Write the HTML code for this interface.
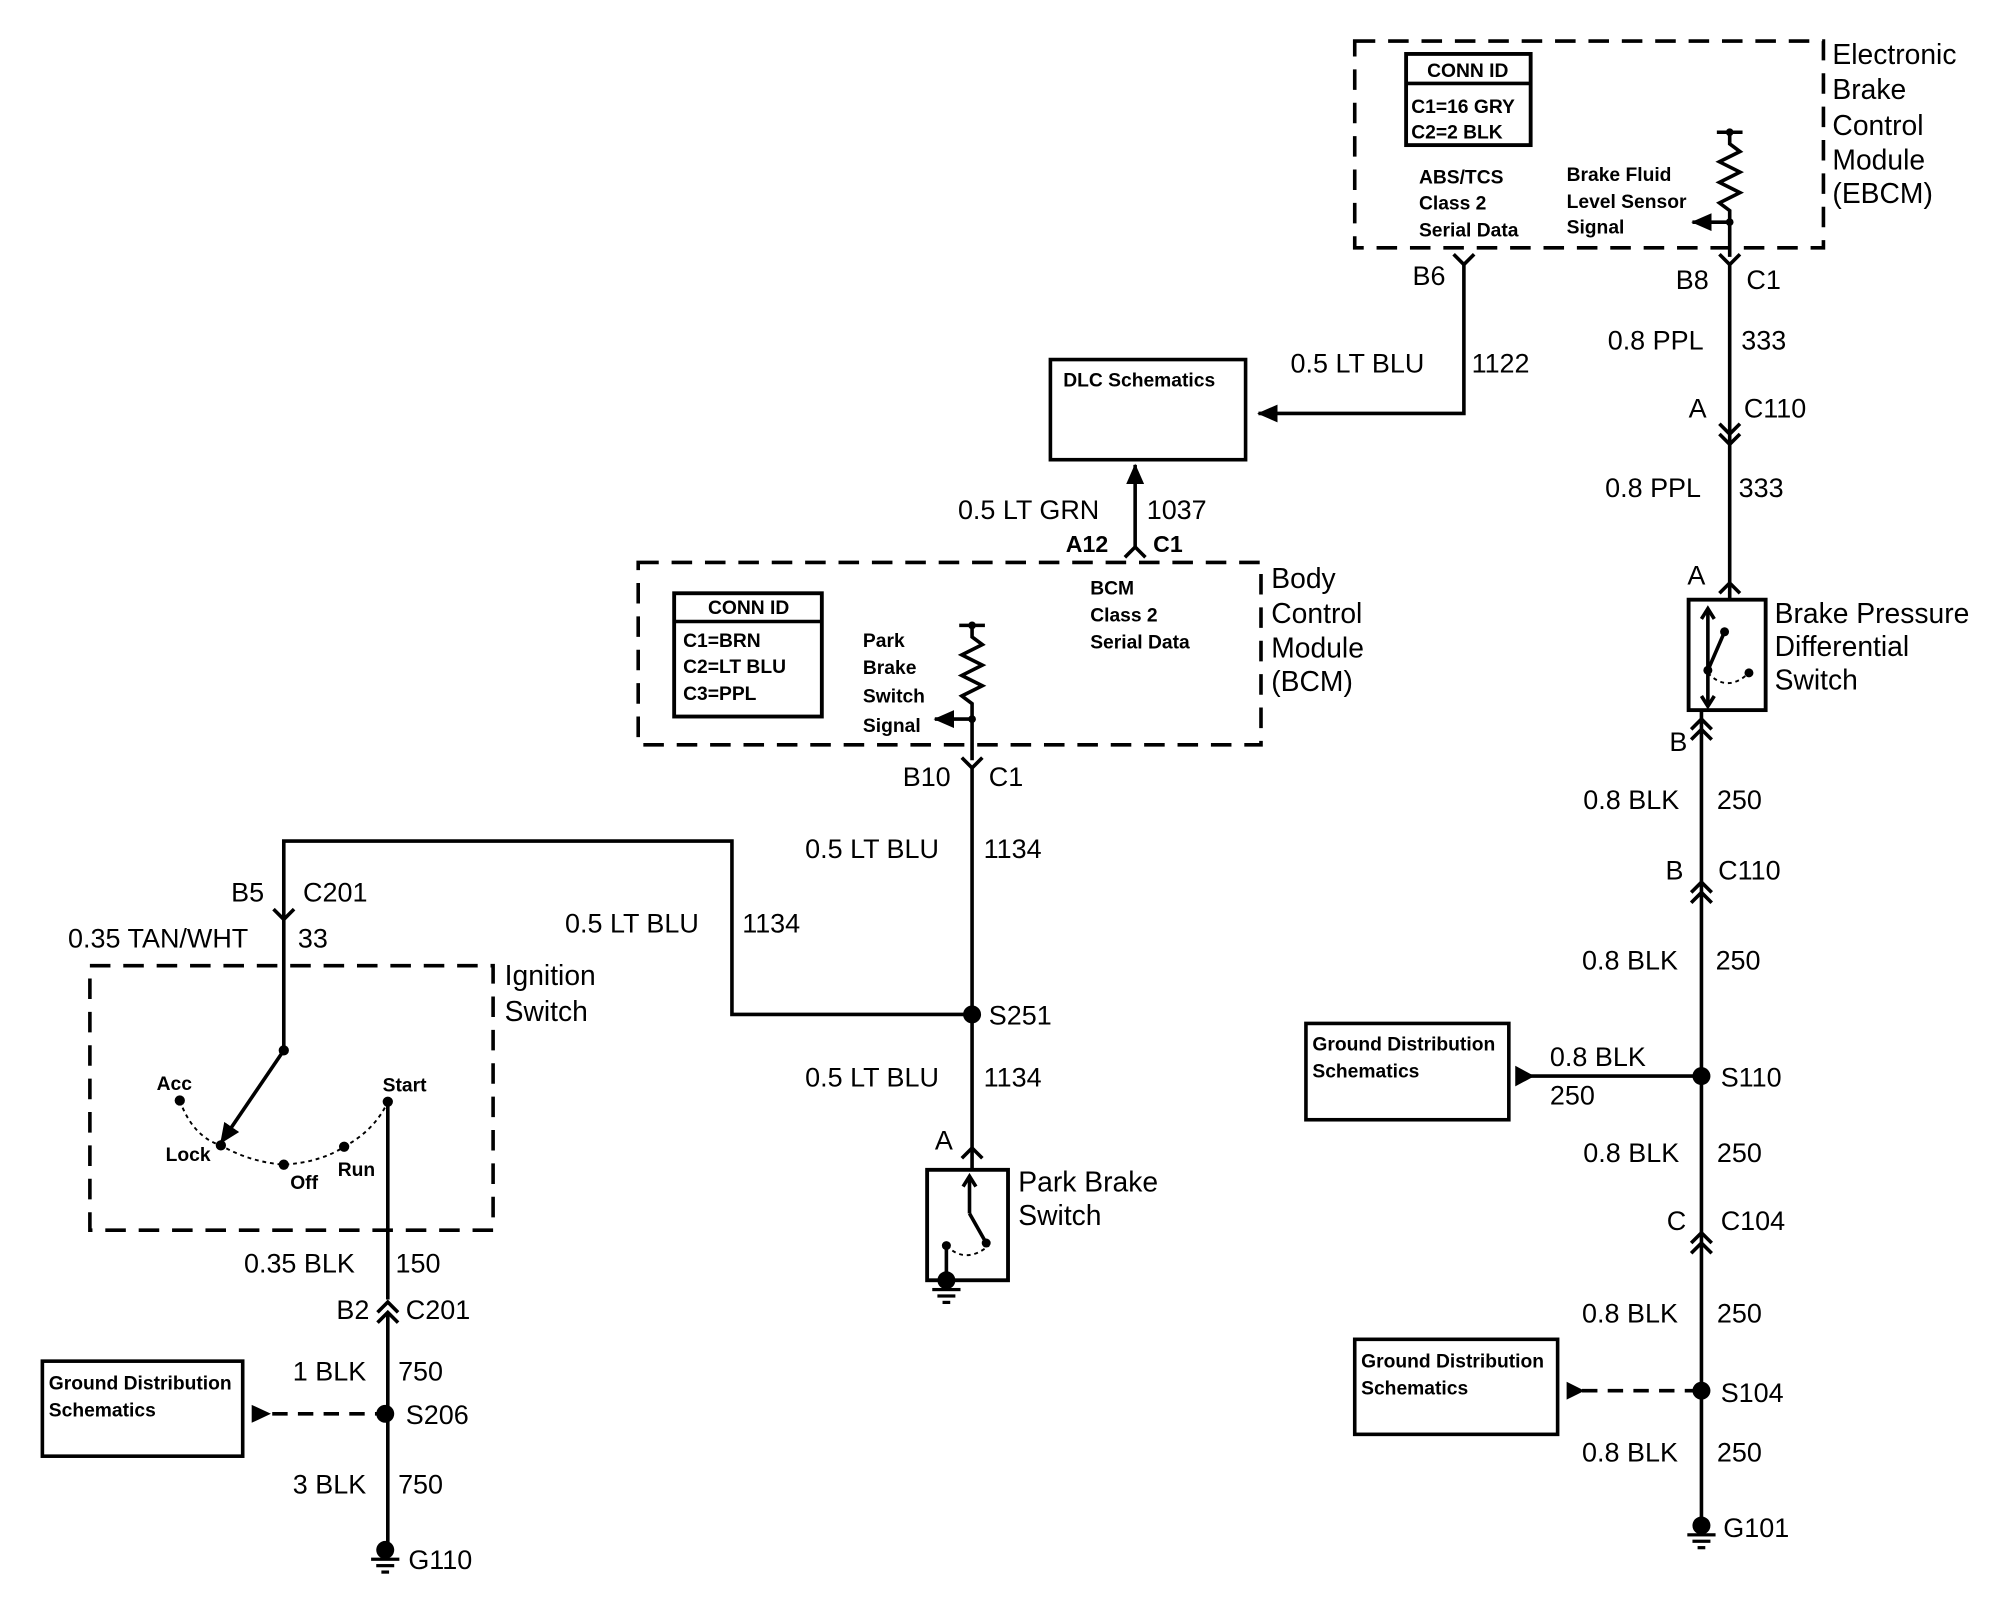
<!DOCTYPE html>
<html><head><meta charset="utf-8"><style>
html,body{margin:0;padding:0;background:#fff;}
svg{display:block}
text{font-family:"Liberation Sans",Arial,sans-serif;fill:#000;}
.w{font-size:21px;}
.s{font-size:15px;font-weight:bold;}
.b{font-size:22px;}
</style></head><body>
<svg width="2014" height="1600" viewBox="0 0 1568 1246" preserveAspectRatio="xMinYMin meet" xmlns="http://www.w3.org/2000/svg">
<defs>
<marker id="arL" markerWidth="16" markerHeight="14" refX="15" refY="7" orient="auto" markerUnits="userSpaceOnUse"><path d="M0,0 L16,7 L0,14 z" fill="#000"/></marker>
</defs>
<g stroke="#000" fill="none" stroke-width="2.8">
<rect x="1055" y="32" width="365" height="161" stroke-dasharray="16,10"/>
<rect x="1095" y="42" width="97" height="71" stroke-width="3"/>
<line x1="1095" y1="65" x2="1192" y2="65"/>
<line x1="1337" y1="103" x2="1357" y2="103"/>
<polyline points="1347,103 1347,112 1355,118 1339,126 1355,134 1339,142 1355,150 1339,158 1347,164 1347,200"/>
<line x1="1347" y1="173" x2="1318" y2="173" marker-end="url(#arL)"/>
<path d="M1132,198 L1140,206 L1148,198"/>
<polyline points="1140,206 1140,322 980,322" marker-end="url(#arL)"/>
<rect x="818" y="280" width="152" height="78"/>
<path d="M1339,198 L1347,206 L1355,198"/>
<line x1="1347" y1="206" x2="1347" y2="467"/>
<path d="M1339,330 L1347,338 L1355,330 M1339,338 L1347,346 L1355,338"/>
<path d="M1339,462 L1347,454 L1355,462"/>
<rect x="1315" y="467" width="60" height="86" stroke-width="3"/>
<line x1="1330" y1="476" x2="1330" y2="548"/>
<path d="M1325,482 L1330,474 L1335,482 M1325,542 L1330,550 L1335,542"/>
<line x1="1330" y1="522" x2="1343" y2="492"/>
<path d="M1330,524 Q1345,540 1362,524" stroke-dasharray="3,3" stroke-width="1.5"/>
<line x1="1325" y1="553" x2="1325" y2="1190"/>
<path d="M1317,568 L1325,560 L1333,568 M1317,576 L1325,568 L1333,576" />
<path d="M1317,695 L1325,687 L1333,695 M1317,703 L1325,695 L1333,703"/>
<path d="M1317,968 L1325,960 L1333,968 M1317,976 L1325,968 L1333,976"/>
<rect x="1017" y="797" width="158" height="75"/>
<line x1="1190" y1="838" x2="1325" y2="838"/>
<rect x="1055" y="1043" width="158" height="74"/>
<line x1="1232" y1="1083" x2="1325" y2="1083" stroke-dasharray="12,8"/>
<rect x="497" y="438" width="485" height="142" stroke-dasharray="16,10"/>
<rect x="525" y="462" width="115" height="96" stroke-width="3"/>
<line x1="525" y1="484" x2="640" y2="484"/>
<line x1="747" y1="487" x2="767" y2="487"/>
<polyline points="757,487 757,496 765,502 749,510 765,518 749,526 765,534 749,542 757,548 757,592"/>
<line x1="757" y1="560" x2="728" y2="560" marker-end="url(#arL)"/>
<line x1="884" y1="426" x2="884" y2="362" marker-end="url(#arL)"/>
<path d="M876,434 L884,426 L892,434"/>
<path d="M749,590 L757,598 L765,590"/>
<line x1="757" y1="598" x2="757" y2="911"/>
<polyline points="757,790 570,790 570,655 221,655 221,818"/>
<path d="M213,708 L221,716 L229,708"/>
<path d="M749,902 L757,894 L765,902"/>
<rect x="722" y="911" width="63" height="86" stroke-width="3"/>
<line x1="755" y1="918" x2="755" y2="945"/>
<path d="M750,924 L755,916 L760,924"/>
<line x1="755" y1="945" x2="768" y2="968"/>
<path d="M737,970 Q752,985 770,970" stroke-dasharray="3,3" stroke-width="1.5"/>
<line x1="737" y1="970" x2="737" y2="997"/>
<rect x="70" y="752" width="314" height="206" stroke-dasharray="16,10"/>
<line x1="221" y1="818" x2="172" y2="890" marker-end="url(#arL)"/>
<path d="M140,857 Q150,885 172,892 Q195,905 221,907 Q250,905 268,893 Q292,880 302,858" stroke-dasharray="3,3" stroke-width="1.5"/>
<line x1="302" y1="858" x2="302" y2="1012"/>
<path d="M294,1022 L302,1014 L310,1022 M294,1030 L302,1022 L310,1030"/>
<line x1="302" y1="1022" x2="302" y2="1205"/>
<rect x="33" y="1060" width="156" height="74"/>
<line x1="212" y1="1101" x2="300" y2="1101" stroke-dasharray="12,8"/>
</g>
<g fill="#000">
<circle cx="1347" cy="103" r="3"/><circle cx="1347" cy="173" r="3"/>
<circle cx="757" cy="487" r="3"/><circle cx="757" cy="560" r="3"/>
<circle cx="757" cy="790" r="7"/><circle cx="1325" cy="838" r="7"/><circle cx="1325" cy="1083" r="7"/><circle cx="300" cy="1101" r="7"/>
<circle cx="1343" cy="492" r="3.5"/><circle cx="1330" cy="522" r="3.5"/><circle cx="1362" cy="524" r="3.5"/>
<circle cx="768" cy="968" r="3.5"/><circle cx="737" cy="970" r="3.5"/>
<circle cx="221" cy="818" r="4"/><circle cx="140" cy="857" r="4"/><circle cx="172" cy="892" r="4"/><circle cx="221" cy="907" r="4"/><circle cx="268" cy="893" r="4"/><circle cx="302" cy="858" r="4"/>
<path d="M1180,830 L1195,838 L1180,846 z"/>
<path d="M1220,1076 L1234,1083 L1220,1090 z"/>
<path d="M196,1094 L211,1101 L196,1108 z"/>
<g transform="translate(737,997)"><circle cx="0" cy="0" r="7"/><rect x="-11" y="6" width="22" height="2.5"/><rect x="-7" y="11" width="14" height="2.5"/><rect x="-3" y="16" width="6" height="2.5"/></g>
<g transform="translate(1325,1188)"><circle cx="0" cy="0" r="7"/><rect x="-11" y="6" width="22" height="2.5"/><rect x="-7" y="11" width="14" height="2.5"/><rect x="-3" y="16" width="6" height="2.5"/></g>
<g transform="translate(300,1207)"><circle cx="0" cy="0" r="7"/><rect x="-11" y="6" width="22" height="2.5"/><rect x="-7" y="11" width="14" height="2.5"/><rect x="-3" y="16" width="6" height="2.5"/></g>
</g>
<text class="s" x="1143" y="60" text-anchor="middle">CONN ID</text>
<text class="s" x="1099" y="88">C1=16 GRY</text>
<text class="s" x="1099" y="108">C2=2 BLK</text>
<text class="s" x="1105" y="143">ABS/TCS</text>
<text class="s" x="1105" y="163">Class 2</text>
<text class="s" x="1105" y="184">Serial Data</text>
<text class="s" x="1220" y="141">Brake Fluid</text>
<text class="s" x="1220" y="162">Level Sensor</text>
<text class="s" x="1220" y="182">Signal</text>
<text class="b" x="1427" y="50">Electronic</text>
<text class="b" x="1427" y="77">Brake</text>
<text class="b" x="1427" y="105">Control</text>
<text class="b" x="1427" y="132">Module</text>
<text class="b" x="1427" y="158">(EBCM)</text>
<text class="w" x="1100" y="222">B6</text>
<text class="w" x="1305" y="225">B8</text><text class="w" x="1360" y="225">C1</text>
<text class="w" x="1005" y="290">0.5 LT BLU</text><text class="w" x="1146" y="290">1122</text>
<text class="s" x="828" y="301">DLC Schematics</text>
<text class="w" x="1252" y="272">0.8 PPL</text><text class="w" x="1356" y="272">333</text>
<text class="w" x="1315" y="325">A</text><text class="w" x="1358" y="325">C110</text>
<text class="w" x="1250" y="387">0.8 PPL</text><text class="w" x="1354" y="387">333</text>
<text class="w" x="1314" y="455">A</text>
<text class="b" x="1382" y="485">Brake Pressure</text>
<text class="b" x="1382" y="511">Differential</text>
<text class="b" x="1382" y="537">Switch</text>
<text class="w" x="1300" y="585">B</text>
<text class="w" x="1233" y="630">0.8 BLK</text><text class="w" x="1337" y="630">250</text>
<text class="w" x="1297" y="685">B</text><text class="w" x="1338" y="685">C110</text>
<text class="w" x="1232" y="755">0.8 BLK</text><text class="w" x="1336" y="755">250</text>
<text class="s" x="1022" y="818">Ground Distribution</text>
<text class="s" x="1022" y="839">Schematics</text>
<text class="w" x="1207" y="830">0.8 BLK</text><text class="w" x="1207" y="860">250</text>
<text class="w" x="1340" y="846">S110</text>
<text class="w" x="1233" y="905">0.8 BLK</text><text class="w" x="1337" y="905">250</text>
<text class="w" x="1298" y="958">C</text><text class="w" x="1340" y="958">C104</text>
<text class="w" x="1232" y="1030">0.8 BLK</text><text class="w" x="1337" y="1030">250</text>
<text class="s" x="1060" y="1065">Ground Distribution</text>
<text class="s" x="1060" y="1086">Schematics</text>
<text class="w" x="1340" y="1092">S104</text>
<text class="w" x="1232" y="1138">0.8 BLK</text><text class="w" x="1337" y="1138">250</text>
<text class="w" x="1342" y="1197">G101</text>
<text class="s" x="583" y="478" text-anchor="middle">CONN ID</text>
<text class="s" x="532" y="504">C1=BRN</text>
<text class="s" x="532" y="524">C2=LT BLU</text>
<text class="s" x="532" y="545">C3=PPL</text>
<text class="s" x="672" y="504">Park</text>
<text class="s" x="672" y="525">Brake</text>
<text class="s" x="672" y="547">Switch</text>
<text class="s" x="672" y="570">Signal</text>
<text class="s" x="849" y="463">BCM</text>
<text class="s" x="849" y="484">Class 2</text>
<text class="s" x="849" y="505">Serial Data</text>
<text class="b" x="990" y="458">Body</text>
<text class="b" x="990" y="485">Control</text>
<text class="b" x="990" y="512">Module</text>
<text class="b" x="990" y="538">(BCM)</text>
<text class="w" x="746" y="404">0.5 LT GRN</text><text class="w" x="893" y="404">1037</text>
<text class="s" x="830" y="430" style="font-size:18px">A12</text><text class="s" x="898" y="430" style="font-size:18px">C1</text>
<text class="w" x="703" y="612">B10</text><text class="w" x="770" y="612">C1</text>
<text class="w" x="627" y="668">0.5 LT BLU</text><text class="w" x="766" y="668">1134</text>
<text class="w" x="770" y="798">S251</text>
<text class="w" x="440" y="726">0.5 LT BLU</text><text class="w" x="578" y="726">1134</text>
<text class="w" x="180" y="702">B5</text><text class="w" x="236" y="702">C201</text>
<text class="w" x="53" y="738">0.35 TAN/WHT</text><text class="w" x="232" y="738">33</text>
<text class="w" x="627" y="846">0.5 LT BLU</text><text class="w" x="766" y="846">1134</text>
<text class="w" x="728" y="895">A</text>
<text class="b" x="793" y="928">Park Brake</text>
<text class="b" x="793" y="954">Switch</text>
<text class="b" x="393" y="767">Ignition</text>
<text class="b" x="393" y="795">Switch</text>
<text class="s" x="122" y="849">Acc</text>
<text class="s" x="129" y="904">Lock</text>
<text class="s" x="226" y="926">Off</text>
<text class="s" x="263" y="916">Run</text>
<text class="s" x="298" y="850">Start</text>
<text class="w" x="190" y="991">0.35 BLK</text><text class="w" x="308" y="991">150</text>
<text class="w" x="262" y="1027">B2</text><text class="w" x="316" y="1027">C201</text>
<text class="w" x="228" y="1075">1 BLK</text><text class="w" x="310" y="1075">750</text>
<text class="s" x="38" y="1082">Ground Distribution</text>
<text class="s" x="38" y="1103">Schematics</text>
<text class="w" x="316" y="1109">S206</text>
<text class="w" x="228" y="1163">3 BLK</text><text class="w" x="310" y="1163">750</text>
<text class="w" x="318" y="1222">G110</text>
</svg>
</body></html>
